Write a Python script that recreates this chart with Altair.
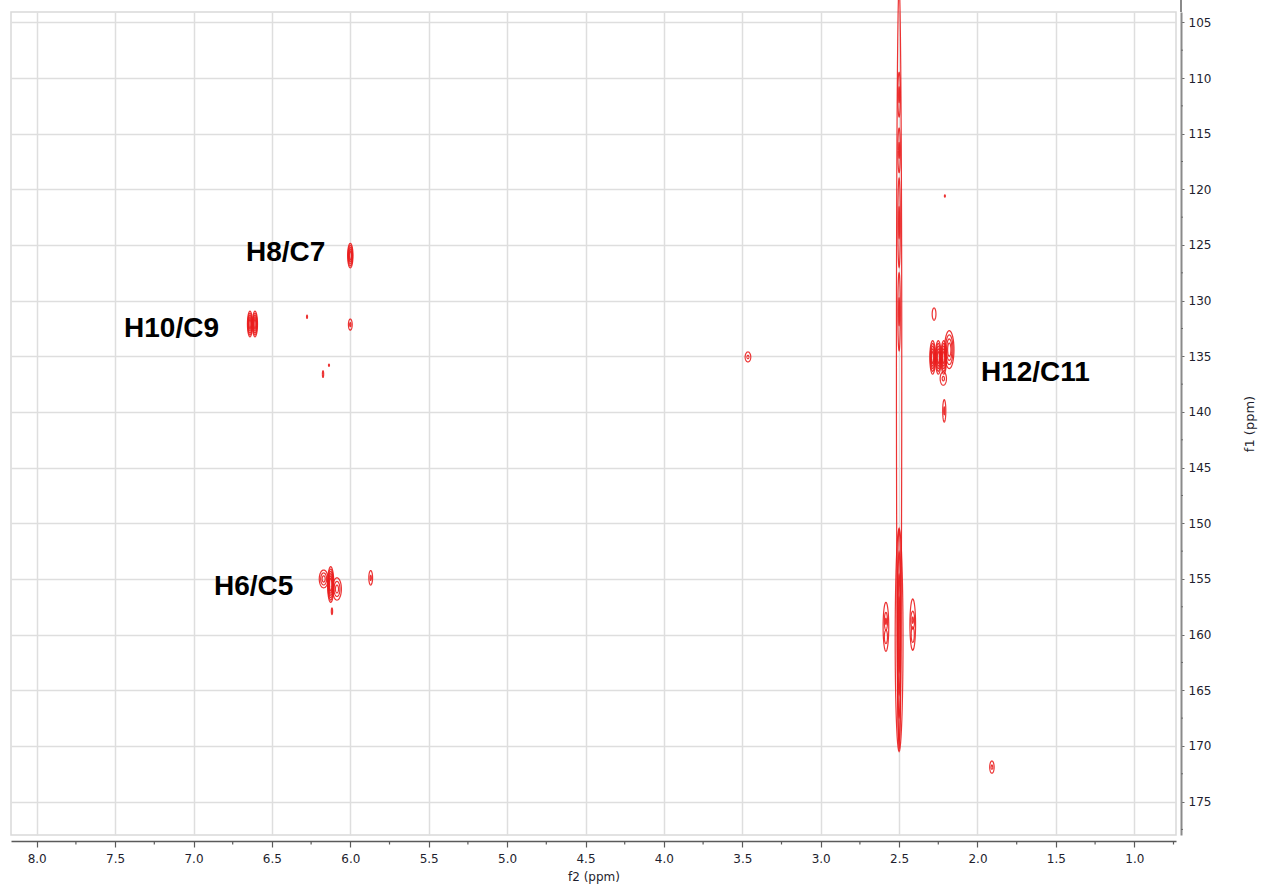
import altair as alt
import numpy as np
import pandas as pd

# Cross peaks: centre (f2, f1 in ppm), half-width / half-height of the outer
# contour (ppm) and the number of contour levels drawn inside it.
peak_f2 = [6.000, 6.640, 6.608, 6.276, 6.000, 6.174, 6.136, 3.464, 2.208,
           2.286, 2.250, 2.215, 2.180, 2.218, 2.277, 2.212,
           6.125, 6.170, 6.085, 6.117, 5.870,
           2.500, 2.500, 2.500, 2.500, 2.500, 2.500, 2.500,
           2.584, 2.584, 2.584, 2.413, 2.413, 2.413,
           1.908]
peak_f1 = [125.95, 132.10, 132.10, 131.45, 132.15, 136.60, 135.80, 135.06, 120.60,
           135.10, 135.10, 135.10, 134.40, 137.00, 131.20, 139.90,
           155.50, 155.00, 155.90, 157.90, 154.90,
           136.00, 111.50, 116.50, 123.00, 131.00, 160.00, 160.50,
           159.30, 158.80, 160.20, 159.10, 158.70, 160.00,
           171.90]
peak_w = [0.017, 0.016, 0.016, 0.003, 0.012, 0.004, 0.003, 0.018, 0.003,
          0.018, 0.018, 0.018, 0.030, 0.020, 0.012, 0.010,
          0.020, 0.028, 0.028, 0.004, 0.012,
          0.017, 0.008, 0.008, 0.008, 0.008, 0.012, 0.025,
          0.018, 0.010, 0.010, 0.018, 0.012, 0.010,
          0.014]
peak_h = [1.10, 1.15, 1.15, 0.15, 0.50, 0.30, 0.10, 0.45, 0.10,
          1.50, 1.50, 1.50, 1.70, 0.60, 0.55, 1.00,
          1.60, 0.80, 1.00, 0.30, 0.65,
          34.30, 2.00, 2.00, 4.00, 3.50, 9.50, 10.00,
          2.20, 0.80, 0.60, 2.30, 0.80, 0.70,
          0.55]
peak_levels = [5, 5, 5, 1, 2, 1, 1, 2, 1,
               5, 5, 5, 4, 2, 1, 2,
               6, 3, 3, 1, 2,
               1, 2, 2, 2, 2, 4, 1,
               1, 2, 1, 1, 2, 1,
               2]

# Assignment labels
label_text = ["H8/C7", "H10/C9", "H6/C5", "H12/C11"]
label_f2 = [6.665, 7.443, 6.869, 1.978]
label_f1 = [125.72, 132.55, 155.72, 136.50]

# Axis tick positions
major_f2 = [8.0, 7.5, 7.0, 6.5, 6.0, 5.5, 5.0, 4.5, 4.0, 3.5, 3.0, 2.5, 2.0, 1.5, 1.0]
minor_f2 = [7.75, 7.25, 6.75, 6.25, 5.75, 5.25, 4.75, 4.25, 3.75, 3.25,
            2.75, 2.25, 1.75, 1.25, 0.75]
major_f1 = [105, 110, 115, 120, 125, 130, 135, 140, 145, 150, 155, 160, 165, 170, 175]
minor_f1 = [107.5, 112.5, 117.5, 122.5, 127.5, 132.5, 137.5, 142.5, 147.5, 152.5,
            157.5, 162.5, 167.5, 172.5, 177.5]

# Closed elliptical outline for each contour level
theta = np.linspace(0.0, 2.0 * np.pi, 49)
rows = []
ring = 0
for cx, cy, w, h, n in zip(peak_f2, peak_f1, peak_w, peak_h, peak_levels):
    for k in range(n):
        s = 1.0 - 0.65 * k / max(n - 1, 1)
        for step, t in enumerate(theta):
            rows.append({"ring": ring, "step": step,
                         "f2": cx + w * s * np.cos(t),
                         "f1": cy + h * s * np.sin(t)})
        ring += 1
contours = pd.DataFrame(rows)

labels = pd.DataFrame({"text": label_text, "f2": label_f2, "f1": label_f1})
minor_x = pd.DataFrame({"f2": minor_f2})
minor_y = pd.DataFrame({"f1": minor_f1})

X = alt.X("f2:Q",
          scale=alt.Scale(domain=[0.734, 8.164], reverse=True, nice=False, zero=False),
          axis=alt.Axis(values=major_f2, format=".1f", title="f2 (ppm)", orient="bottom",
                        offset=6, tickSize=6, labelPadding=6, labelFlush=False,
                        labelOverlap=False, titleFontSize=12, titlePadding=7,
                        domainColor="#5a5a5a", tickColor="#5a5a5a", domainWidth=1.5,
                        tickWidth=1.2))
Y = alt.Y("f1:Q",
          scale=alt.Scale(domain=[104.07, 178.0], reverse=True, nice=False, zero=False),
          axis=alt.Axis(values=major_f1, format="d", title="f1 (ppm)", orient="right",
                        offset=5, tickSize=3, labelPadding=4, labelFlush=False,
                        labelOverlap=False, titleAngle=270, titleFontSize=13,
                        titlePadding=46, domainColor="#8a8a8a", tickColor="#6a6a6a",
                        domainWidth=2, tickWidth=1))

red = "#ea1d1d"

contour_layer = alt.Chart(contours).mark_line(
    color=red, strokeWidth=1.2, strokeOpacity=0.9
).encode(x=X, y=Y, detail="ring:N", order=alt.Order("step:Q"))

label_layer = alt.Chart(labels).mark_text(
    align="left", baseline="middle", font="Liberation Sans", fontSize=28,
    fontWeight="bold", color="#000000"
).encode(x=X, y=Y, text="text:N")

minor_x_layer = alt.Chart(minor_x).mark_rule(color="#5a5a5a", strokeWidth=1.2).encode(
    x=X, y=alt.value(829), y2=alt.value(832.5))

minor_y_layer = alt.Chart(minor_y).mark_rule(color="#6a6a6a", strokeWidth=1).encode(
    y=Y, x=alt.value(1170), x2=alt.value(1172))

# upward continuation of the f1 axis line above the frame
axis_cap = alt.Chart(pd.DataFrame({"f1": [104.07]})).mark_rule(
    color="#8a8a8a", strokeWidth=2).encode(
    x=alt.value(1170), y=alt.value(-12), y2=alt.value(0))

chart = alt.layer(
    contour_layer, label_layer, minor_x_layer, minor_y_layer, axis_cap
).properties(
    width=1165, height=823,
    autosize=alt.AutoSizeParams(type="none"),
    padding={"left": 11, "top": 12, "right": 88, "bottom": 51},
    background="#ffffff",
).configure_view(
    stroke="#d9d9d9", strokeWidth=1.5
).configure_axis(
    labelFont="DejaVu Sans", labelFontSize=12, labelColor="#1e1e2e",
    titleFont="DejaVu Sans", titleFontWeight="normal", titleColor="#1e1e2e",
    grid=True, gridColor="#dedede", gridWidth=1.5,
)

chart.save("out.html", embed_options={"renderer": "svg", "actions": False})
